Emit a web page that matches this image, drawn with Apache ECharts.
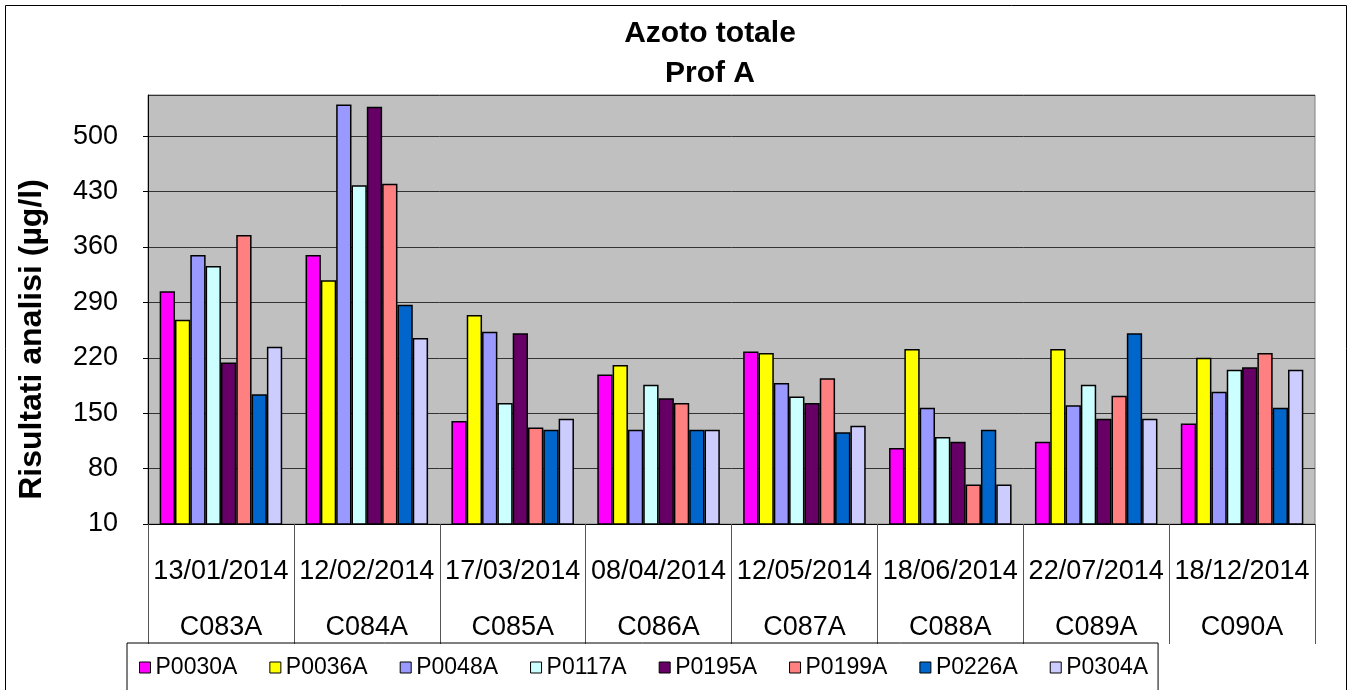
<!DOCTYPE html>
<html>
<head>
<meta charset="utf-8">
<script src="https://cdn.jsdelivr.net/npm/echarts@6/dist/echarts.min.js"></script>
<style>
  html, body { margin: 0; padding: 0; background: #fff; }
  #chart { width: 1353px; height: 690px; }
</style>
</head>
<body>
<div id="chart"></div>
<script>
// categories (two label rows)
var dates = ['13/01/2014', '12/02/2014', '17/03/2014', '08/04/2014', '12/05/2014', '18/06/2014', '22/07/2014', '18/12/2014'];
var campaigns = ['C083A', 'C084A', 'C085A', 'C086A', 'C087A', 'C088A', 'C089A', 'C090A'];

var seriesNames = ['P0030A', 'P0036A', 'P0048A', 'P0117A', 'P0195A', 'P0199A', 'P0226A', 'P0304A'];

// values (µg/l)
var P0030A = [304, 350, 140, 199, 228, 106, 114, 137];
var P0036A = [268, 318, 274, 211, 226, 231, 231, 220];
var P0048A = [350, 540, 253, 129, 188, 157, 160, 177];
var P0117A = [336, 438, 163, 186, 171, 120, 186, 205];
var P0195A = [214, 537, 251, 169, 163, 114, 143, 208];
var P0199A = [375, 440, 132, 163, 194, 60, 172, 226];
var P0226A = [174, 287, 129, 129, 126, 129, 251, 157];
var P0304A = [234, 245, 143, 129, 134, 60, 143, 205];

var seriesData = [P0030A, P0036A, P0048A, P0117A, P0195A, P0199A, P0226A, P0304A];
var seriesColors = ['#FF00FF', '#FFFF00', '#9999FF', '#CCFFFF', '#660066', '#FF8080', '#0066CC', '#CCCCFF'];

var font = '"Liberation Sans", Arial, sans-serif';

var series = [];
for (var i = 0; i < seriesNames.length; i++) {
    series.push({
        name: seriesNames[i],
        type: 'bar',
        barGap: '0%',
        barCategoryGap: '16%',
        itemStyle: {
            color: seriesColors[i],
            borderColor: '#000',
            borderWidth: 1.5
        },
        data: seriesData[i]
    });
}

var option = {
    animation: false,
    backgroundColor: '#fff',
    graphic: [{
        type: 'rect',
        shape: { x: 5.5, y: 5.5, width: 1341, height: 700 },
        style: { fill: 'none', stroke: '#000', lineWidth: 1 },
        silent: true
    }],
    title: {
        text: 'Azoto totale\nProf A',
        left: 705,
        top: 9,
        textAlign: 'center',
        textStyle: {
            fontFamily: font,
            fontWeight: 'bold',
            fontSize: 30,
            lineHeight: 40,
            color: '#000'
        }
    },
    legend: {
        data: seriesNames,
        left: 127,
        top: 643,
        padding: [13, 10, 30, 12],
        itemGap: 32,
        itemWidth: 11,
        itemHeight: 11,
        icon: 'rect',
        borderColor: '#000',
        borderWidth: 1,
        itemStyle: { borderColor: '#000', borderWidth: 1 },
        textStyle: { fontFamily: font, fontSize: 23, color: '#000' }
    },
    grid: {
        left: 148,
        right: 38,
        top: 95,
        bottom: 166,
        show: true,
        backgroundColor: '#C0C0C0',
        borderColor: '#808080',
        borderWidth: 1
    },
    xAxis: {
        type: 'category',
        data: dates.map(function (d, k) { return d + '\n' + campaigns[k]; }),
        axisLine: { lineStyle: { color: '#000', width: 1 } },
        axisTick: { show: true, length: 120, lineStyle: { color: '#555', width: 1 } },
        axisLabel: {
            interval: 0,
            margin: 20,
            lineHeight: 56,
            fontFamily: font,
            fontSize: 27,
            color: '#000'
        }
    },
    yAxis: {
        type: 'value',
        min: 10,
        max: 552,
        interval: 70,
        name: 'Risultati analisi (µg/l)',
        nameLocation: 'middle',
        nameGap: 100,
        nameTextStyle: {
            fontFamily: font,
            fontWeight: 'bold',
            fontSize: 32,
            color: '#000',
            padding: [0, 60, 0, 0]
        },
        axisLine: { show: true, lineStyle: { color: '#000', width: 1 } },
        axisTick: { show: true, length: 5, lineStyle: { color: '#000' } },
        axisLabel: {
            showMaxLabel: false,
            margin: 30,
            fontFamily: font,
            fontSize: 27,
            color: '#000'
        },
        splitLine: { show: true, lineStyle: { color: '#333', width: 1 } }
    },
    series: series
};

var chart = echarts.init(document.getElementById('chart'));
chart.setOption(option);
window.addEventListener('resize', function () {
    chart.resize();
});
</script>
</body>
</html>
